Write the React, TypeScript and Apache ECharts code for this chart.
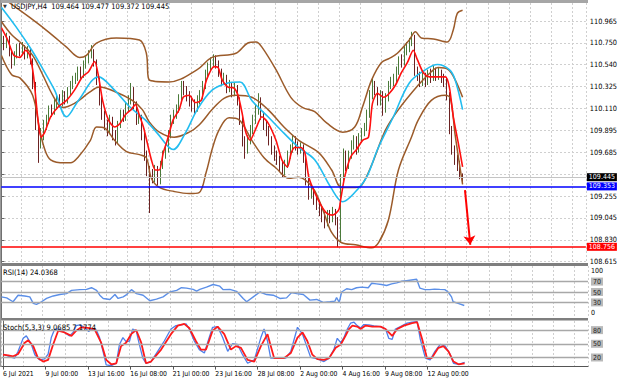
import React, { useEffect, useRef } from 'react';
import * as echarts from 'echarts';

const FONT = "'Liberation Sans Narrow', 'DejaVu Sans Condensed', 'Liberation Sans', Arial, sans-serif";
const SLOTS = 221;

const symbolName = 'USDJPY,H4';
const firstOpen = 110.74;
const closes = [
  110.78,110.73,110.80,110.66,110.56,110.63,110.70,110.66,110.71,110.63,
  110.68,110.58,110.34,109.95,109.80,109.85,109.95,110.00,110.10,110.08,
  110.14,110.19,110.16,110.24,110.19,110.27,110.34,110.39,110.41,110.47,
  110.44,110.54,110.58,110.63,110.66,110.56,110.39,110.19,110.05,109.95,
  109.90,110.00,109.85,109.80,109.95,110.05,110.02,110.12,110.19,110.29,
  110.14,110.00,110.02,109.85,109.66,109.51,109.46,109.43,109.51,109.41,
  109.56,109.66,109.71,109.85,110.00,110.05,110.10,110.19,110.34,110.29,
  110.24,110.19,110.14,110.12,110.19,110.24,110.34,110.44,110.51,110.56,
  110.60,110.54,110.47,110.39,110.41,110.31,110.34,110.27,110.31,110.19,
  110.00,109.80,109.71,109.80,109.90,110.00,110.10,110.19,110.05,109.95,
  109.90,109.80,109.71,109.66,109.61,109.56,109.49,109.56,109.66,109.71,
  109.80,109.75,109.71,109.73,109.63,109.41,109.27,109.31,109.22,109.17,
  109.12,109.07,109.00,109.07,109.04,109.10,109.02,108.83,109.43,109.66,
  109.56,109.66,109.75,109.80,109.71,109.82,109.88,109.92,110.05,110.24,
  110.34,110.29,110.19,110.24,110.10,110.21,110.34,110.37,110.39,110.47,
  110.58,110.56,110.68,110.70,110.76,110.78,110.47,110.44,110.37,110.41,
  110.37,110.44,110.41,110.47,110.43,110.46,110.41,110.39,110.24,109.90,
  109.71,109.61,109.56,109.464,109.445,
];
const highs = [
  110.84,110.82,110.85,110.82,110.69,110.67,110.74,110.75,110.76,110.73,
  110.72,110.70,110.60,110.37,109.99,109.92,110.00,110.05,110.14,110.15,
  110.20,110.24,110.25,110.29,110.28,110.32,110.38,110.43,110.46,110.52,
  110.52,110.58,110.63,110.68,110.73,110.69,110.59,110.42,110.23,110.09,
  110.00,110.05,110.03,109.90,109.99,110.10,110.10,110.17,110.24,110.36,
  110.32,110.18,110.08,110.05,109.88,109.70,109.55,109.52,109.56,109.55,
  109.60,109.70,109.76,109.90,110.05,110.10,110.15,110.25,110.38,110.38,
  110.33,110.28,110.23,110.20,110.24,110.29,110.38,110.49,110.56,110.61,
  110.64,110.63,110.58,110.50,110.46,110.44,110.39,110.37,110.36,110.34,
  110.22,110.04,109.84,109.85,109.95,110.05,110.15,110.26,110.22,110.08,
  110.00,109.94,109.84,109.75,109.70,109.65,109.60,109.61,109.70,109.76,
  109.85,109.84,109.79,109.78,109.76,109.66,109.45,109.36,109.34,109.26,
  109.21,109.16,109.10,109.12,109.12,109.15,109.13,109.05,109.47,109.72,
  109.70,109.70,109.80,109.85,109.84,109.87,109.92,109.97,110.10,110.29,
  110.40,110.38,110.32,110.29,110.28,110.26,110.38,110.42,110.45,110.52,
  110.62,110.64,110.72,110.76,110.80,110.86,110.83,110.52,110.47,110.46,
  110.46,110.49,110.50,110.53,110.51,110.51,110.49,110.45,110.42,110.27,
  109.94,109.75,109.66,109.60,109.477,
];
const lows = [
  110.70,110.68,110.70,110.62,110.50,110.53,110.60,110.62,110.63,110.59,
  110.60,110.54,110.30,109.90,109.58,109.72,109.80,109.90,109.96,110.03,
  110.05,110.10,110.12,110.13,110.15,110.16,110.24,110.30,110.35,110.38,
  110.40,110.41,110.50,110.55,110.60,110.52,110.34,110.14,110.00,109.90,
  109.84,109.86,109.80,109.75,109.77,109.92,109.98,109.99,110.08,110.15,
  110.10,109.95,109.96,109.80,109.60,109.45,109.09,109.38,109.39,109.36,
  109.37,109.52,109.62,109.68,109.82,109.96,110.01,110.07,110.16,110.24,
  110.18,110.13,110.08,110.06,110.08,110.15,110.20,110.30,110.40,110.47,
  110.52,110.50,110.42,110.33,110.34,110.26,110.27,110.22,110.23,110.14,
  109.95,109.74,109.62,109.67,109.76,109.86,109.96,110.05,110.00,109.90,
  109.84,109.75,109.66,109.60,109.56,109.50,109.44,109.46,109.53,109.62,
  109.68,109.70,109.66,109.67,109.58,109.36,109.22,109.23,109.17,109.12,
  109.06,109.00,108.94,108.96,108.99,109.00,108.97,108.756,108.80,109.40,
  109.50,109.52,109.62,109.71,109.66,109.68,109.78,109.84,109.89,110.02,
  110.20,110.24,110.14,110.14,110.04,110.07,110.18,110.30,110.33,110.35,
  110.44,110.51,110.53,110.63,110.66,110.72,110.43,110.38,110.32,110.33,
  110.32,110.34,110.36,110.38,110.38,110.39,110.36,110.32,110.19,109.86,
  109.66,109.56,109.50,109.42,109.372,
];

// indicator lines: [bar index, value]
const bbUpper = [[0,111.20],[10.7,111.00],[18.2,110.85],[24.6,110.71],[29.5,110.61],[32.1,110.63],[35.9,110.75],[43.4,110.80],[52.1,110.78],[54.7,110.65],[55.8,110.39],[63.3,110.37],[73.9,110.49],[79.5,110.61],[88.5,110.65],[93,110.75],[96.1,110.76],[98.3,110.71],[103.6,110.49],[109.2,110.22],[113.7,110.12],[118.2,110.08],[122.7,109.97],[128.8,109.88],[133.3,109.93],[136.3,110.13],[139.7,110.39],[143.4,110.56],[146.4,110.60],[149.4,110.65],[153.9,110.78],[156.2,110.86],[158.4,110.80],[163,110.79],[168.2,110.76],[170.5,110.88],[172,111.04],[174,111.07]];
const bbMiddle = [[0,110.96],[3.9,110.83],[7,110.76],[11.8,110.63],[15.6,110.44],[19.4,110.24],[23.1,110.12],[27.6,110.16],[33.3,110.27],[37,110.32],[43.4,110.27],[49.4,110.19],[53.2,110.10],[55.8,109.98],[59.6,109.88],[65.2,109.83],[70.9,109.88],[74.6,109.95],[79.5,110.10],[84,110.21],[88.5,110.24],[94.5,110.22],[100.6,110.10],[106.6,109.93],[112.2,109.80],[119.7,109.68],[124.6,109.51],[128.4,109.34],[133.6,109.34],[135.9,109.36],[139.7,109.56],[144.9,109.90],[149.8,110.10],[157.3,110.34],[162.2,110.47],[164.8,110.51],[168.6,110.49],[171.2,110.39],[174,110.22]];
const bbLower = [[0,110.63],[3.9,110.44],[7,110.41],[11.8,110.24],[14.5,109.90],[16.4,109.71],[18.6,109.61],[23.9,109.58],[26.1,109.58],[29.1,109.64],[33.6,109.80],[35.9,109.93],[38.9,109.92],[42.7,109.80],[47.2,109.69],[52.1,109.66],[54.7,109.63],[56.6,109.43],[59.6,109.34],[65.2,109.30],[70.9,109.28],[74.6,109.29],[77.3,109.49],[79.5,109.71],[82.1,109.90],[85.9,110.02],[89.7,110.00],[94.5,109.80],[99.1,109.63],[103.6,109.53],[108.5,109.43],[112.2,109.44],[114.8,109.41],[118.2,109.31],[121.6,109.10],[124.6,108.90],[128.4,108.80],[133.6,108.78],[139.7,108.75],[142.3,108.80],[146,109.02],[149.8,109.51],[154.7,109.83],[157.3,110.00],[162.2,110.19],[167.5,110.24],[169.4,110.21],[171.2,109.85],[174,109.37]];
const slowMA = [[0,111.10],[5.5,110.91],[11.5,110.68],[15.8,110.49],[20.1,110.29],[24.6,110.03],[29.1,110.19],[36.7,110.42],[42.7,110.29],[48.3,110.13],[54.3,110.00],[58.8,109.87],[64.8,109.71],[69.4,109.87],[73.9,110.10],[79.5,110.29],[85.5,110.36],[90,110.37],[94.5,110.19],[100.6,110.03],[106.6,109.87],[112.2,109.73],[118.2,109.61],[124.3,109.34],[128.8,109.20],[133.3,109.29],[137.8,109.44],[141.9,109.71],[147.9,110.03],[153.9,110.36],[160,110.49],[164.5,110.54],[169,110.49],[171.2,110.39],[174,110.10]];
const fastMA = [[0,110.90],[2.4,110.78],[4.7,110.63],[7,110.61],[9.2,110.68],[10.7,110.63],[12.2,110.42],[13.7,110.03],[15,109.83],[16.4,109.88],[18.6,110.03],[21.6,110.13],[24.6,110.19],[27.6,110.29],[30.6,110.42],[32.9,110.47],[35.2,110.57],[36.7,110.42],[38.2,110.19],[40.4,110.00],[42.7,109.93],[44.9,109.97],[46.8,110.05],[49,110.10],[50.6,110.15],[52,110.05],[53.6,109.93],[55.1,109.77],[56.6,109.61],[58.1,109.51],[59.6,109.51],[61.1,109.68],[62.6,109.80],[64.8,110.00],[67.1,110.10],[68.6,110.22],[70.9,110.24],[73.1,110.17],[75.4,110.19],[77.4,110.39],[80.3,110.52],[81.8,110.51],[83.3,110.39],[85.5,110.32],[87.8,110.31],[89.3,110.24],[90.8,110.07],[92.3,109.87],[93.8,109.80],[96.1,109.92],[98.3,110.03],[100.6,109.97],[103.6,109.80],[105.8,109.61],[107.9,109.54],[109.4,109.68],[110.7,109.73],[113,109.73],[114.5,109.68],[116,109.44],[118.2,109.29],[120.5,109.17],[122.7,109.09],[125,109.07],[127.3,109.12],[128,109.22],[129.5,109.44],[131.8,109.64],[134,109.71],[136.3,109.80],[138.5,109.83],[140,110.16],[141.9,110.26],[144.2,110.22],[146.4,110.26],[148.7,110.34],[150.9,110.46],[153.2,110.56],[155.4,110.68],[156.9,110.59],[159.2,110.46],[161.5,110.42],[164.5,110.42],[167.5,110.42],[169,110.32],[170.5,110.03],[172.4,109.77],[174,109.54]];

const rsiLine = [[0,40.6],[2,38.7],[4.4,31.2],[6.3,43.8],[8.8,42.4],[10.7,40.6],[12,28.2],[13.2,26.3],[15.1,31.2],[17,37.6],[19.5,42.4],[22,45.1],[24.5,46.9],[26.4,53.1],[29.5,54.5],[32,55],[33.9,58.2],[35.8,53.1],[37,43.8],[38.3,37.6],[40.8,35.7],[42.7,45.1],[43.9,37.6],[45.8,40.6],[47.1,45.1],[48.9,54.5],[50.8,46.9],[53.3,43.8],[55.8,33.1],[58.3,36.2],[60.8,40.6],[63.3,50],[65.9,53.1],[67.7,58.2],[69.6,57.5],[72.1,55],[73.4,51.8],[74.6,55],[77.1,59.3],[79.6,64.4],[82.1,61.2],[83.4,54.5],[85.9,55],[88.4,51.3],[90.9,37.6],[92.2,31.2],[94.7,40.6],[97.2,50],[99.7,45.1],[102.2,43.8],[104.7,37.6],[107.2,38.7],[109.1,48.8],[111,46.9],[113.5,45.1],[116,34.4],[118.5,35.7],[121,30],[123.5,31.2],[125.4,32.5],[126,39.4],[127,30],[127.9,50],[129.8,56.3],[131.7,54.5],[133.5,58.2],[135.4,59.3],[137.9,58.2],[139.2,66.9],[141,65.7],[142.9,64.4],[144.8,62.5],[146.7,65.7],[148.6,67.6],[150.5,70.6],[152.3,71.9],[154.2,73.2],[156.1,74.4],[157.3,57.5],[159.2,54.5],[161,54.5],[162.8,55.6],[164.8,55],[166.7,54.5],[167.9,50],[169.2,40.6],[169.8,31.2],[171.7,28.2],[174,24.04]];
const stochMain = [[0,27.6],[1.3,24.6],[3.2,20.1],[4.4,18.6],[5.7,33.6],[7.6,62.1],[8.8,67.4],[10.7,48.6],[12,26.1],[13.8,14.8],[15.7,17.1],[17,27.6],[18.2,63.6],[19.5,82.4],[21.4,82.4],[23.2,74.9],[25.1,67.4],[26.4,74.9],[27.6,89.9],[28.9,91.4],[30.2,87.7],[31.4,82.4],[32.3,77.1],[33.3,82.4],[35.2,80.2],[36.4,63.6],[37.7,33.6],[38.9,3.6],[40.8,2.1],[42.7,7.3],[43.9,48.6],[45.2,63.6],[46.4,54.6],[47.7,56.1],[48.9,82.4],[50.2,78.7],[51.4,48.6],[52.7,18.6],[53.9,7.3],[55.8,11.1],[58.3,33.6],[60.8,56.1],[63.3,82.4],[65.2,89.9],[67.7,92.2],[69,93.7],[70.2,82.4],[72.1,56.1],[74,37.3],[75.9,29.8],[77.7,63.6],[79,86.2],[80.9,87.7],[82.8,63.6],[84.7,33.6],[86.5,50.1],[88.4,48.6],[90.3,26.1],[92.2,7.3],[94.7,14.8],[97.2,63.6],[98.4,82.4],[99.7,56.1],[100.9,18.6],[103.5,18.6],[106.6,18.6],[108.5,33.6],[111,86.2],[112.9,71.1],[114.7,41.1],[116,20],[118.5,17.1],[121,11.1],[122.9,18.6],[124.7,37.3],[126,62.1],[127.3,52.4],[128.5,63.6],[129.8,82.4],[131,95.2],[132.3,97.4],[133.5,89.9],[134.8,84.7],[136,92.2],[137.9,91.4],[139.8,89.2],[142.3,87.7],[144.2,82.4],[145.4,62.1],[146.7,59.9],[147.9,82.4],[149.8,87.7],[152.3,95.2],[154.2,97.4],[156.1,98.5],[157.3,59.9],[159.2,18.6],[161,14.8],[162.8,33.6],[164.8,48.6],[166.7,44.9],[168.6,26.1],[169.8,7.3],[171.7,5.1],[174,9.07]];
const stochSignal = [[0,26.1],[2,24.6],[3.8,22.3],[5.7,27.6],[8.2,52.4],[9.5,57.6],[11.4,44.9],[13.2,18.6],[15.1,11.1],[17,14.8],[18.9,48.6],[20.8,78.7],[23.2,74.9],[25.8,67.4],[27.6,78.7],[29.5,86.2],[32,84.7],[34.5,82.4],[37,52.4],[38.9,14.8],[40.8,5.1],[42.7,7.3],[44.5,44.9],[46.4,52.4],[48.3,71.1],[50.2,80.2],[52.1,52.4],[53.9,7.3],[55.8,11.1],[59.6,37.3],[63.3,71.1],[65.9,89.9],[68.3,93.7],[70.2,84.7],[72.7,56.1],[74.6,37.3],[76.5,37.3],[79,78.7],[80.9,87.7],[83.4,71.1],[85.9,37.3],[87.8,44.9],[89.7,41.1],[92.2,14.8],[94.7,11.1],[97.2,44.9],[99.7,71.1],[102.2,18.6],[105.9,18.6],[108.5,29.8],[111,63.6],[112.9,74.9],[114.7,56.1],[116.6,26.1],[118.5,16.3],[121,14.8],[122.9,18.6],[125.4,41.1],[127.3,48.6],[129.1,67.4],[130.4,82.4],[131.7,89.9],[133.5,87.7],[134.8,82.4],[136.7,89.9],[139.2,87.7],[142.3,87.7],[144.2,82.4],[146.7,67.4],[148.6,82.4],[151.1,89.9],[154.2,95.2],[156.1,97.4],[158,59.9],[159.8,18.6],[161.6,18.6],[164.1,41.1],[166,44.9],[167.9,33.6],[169.8,11.1],[171.7,5.1],[174,7.18]];

const rsiText = 'RSI(14) 24.0368';
const stochText = 'Stoch(5,3,3) 9.0685 7.1774';
const rsiLevels = [70, 50, 30];
const stochLevels = [80, 50, 20];

const priceTicks = [108.615,108.829,109.042,109.256,109.470,109.683,109.897,110.110,110.324,110.538,110.751,110.965];
const priceTickLabels = ['108.615','108.830','109.045','109.255','','109.685','109.895','110.110','110.325','110.540','110.750','110.965'];
const dateLabels = ['6 Jul 2021','9 Jul 00:00','13 Jul 16:00','16 Jul 08:00','21 Jul 00:00','23 Jul 16:00','28 Jul 08:00','2 Aug 00:00','4 Aug 16:00','9 Aug 08:00','12 Aug 00:00'];
const DATE_STEP = 16;

const bidPrice = 109.445;
const supportLevel = 109.353;
const targetLevel = 108.756;
const arrowFrom = [174.9, 109.314];
const arrowTo = [176.9, 108.78];

const BROWN = '#9b5b2a';

function buildOption() {
  const cats = Array.from({ length: SLOTS }, (_, i) => String(i));
  const candles = closes.map((c, i) => [i === 0 ? firstOpen : closes[i - 1], c, lows[i], highs[i]]);
  const n = closes.length;
  const headText = `${symbolName}  ${candles[n - 1][0].toFixed(3)} ${highs[n - 1].toFixed(3)} ${lows[n - 1].toFixed(3)} ${closes[n - 1].toFixed(3)}`;

  const vSplit = { show: true, interval: 7, lineStyle: { color: '#cfcfcf', type: [2, 2], width: 1 } };
  const showDate = (i: number) => i % DATE_STEP === 0 && i / DATE_STEP < dateLabels.length;
  const catAxis = (grid: number, showLabels: boolean) => ({
    type: 'category', gridIndex: grid, data: cats, boundaryGap: true,
    axisLine: { show: showLabels, lineStyle: { color: '#555' } },
    axisTick: showLabels
      ? { show: true, alignWithLabel: true, length: 3, interval: showDate, lineStyle: { color: '#555' } }
      : { show: false },
    axisLabel: showLabels
      ? { show: true, interval: showDate, formatter: (_v: string, i: number) => dateLabels[i / DATE_STEP] || '', align: 'left', fontSize: 6.8, color: '#000', margin: 4, fontFamily: FONT }
      : { show: false },
    splitLine: vSplit,
  });
  const valX = (grid: number) => ({ type: 'value', gridIndex: grid, min: -0.5, max: SLOTS - 0.5, show: false });

  const levelLabel = (vals: number[], topAt: number, botAt: number) => ({
    show: true, fontSize: 7, fontFamily: FONT, color: '#000', margin: 3,
    customValues: [topAt, ...vals, botAt],
    formatter: (v: number) => (v === topAt ? '100' : v === botAt ? '0' : `{lv|${v}}`),
    rich: { lv: { backgroundColor: '#b9b9b9', color: '#222', padding: [1, 2, 0, 2], fontSize: 7, fontFamily: FONT } },
  });

  const lineS = (name: string, data: number[][], xi: number, yi: number, color: string, width: number, smooth: number | boolean, extra: any = {}) => ({
    name, type: 'line', xAxisIndex: xi, yAxisIndex: yi, data, showSymbol: false, smooth, silent: true,
    lineStyle: { color, width }, itemStyle: { color }, ...extra,
  });

  const priceTag = (value: number, bg: string, lineColor: string, width: number) => ({
    yAxis: value,
    lineStyle: { color: lineColor, width, type: 'solid' },
    label: { show: true, position: 'end', formatter: value.toFixed(3), backgroundColor: bg, color: '#fff', padding: [0, 2, 0, 2], distance: 1, fontSize: 7, lineHeight: 8, fontFamily: FONT },
  });

  return {
    animation: false,
    backgroundColor: '#ffffff',
    textStyle: { fontFamily: FONT },
    grid: [
      { left: 0, top: 3, width: 588, height: 260 },
      { left: 0, top: 266, width: 588, height: 52 },
      { left: 0, top: 321, width: 588, height: 45.6 },
    ],
    xAxis: [catAxis(0, false), valX(0), catAxis(1, false), valX(1), catAxis(2, true), valX(2)],
    yAxis: [
      {
        type: 'value', gridIndex: 0, position: 'right', min: 108.602, max: 111.141, scale: true,
        axisLine: { show: true, lineStyle: { color: '#666' } },
        axisTick: { show: true, length: 3, customValues: priceTicks, lineStyle: { color: '#666' } },
        axisLabel: {
          show: true, customValues: priceTicks, fontSize: 7.3, color: '#000', margin: 4, fontFamily: FONT,
          formatter: (v: number) => { const k = priceTicks.findIndex((t) => Math.abs(t - v) < 1e-6); return k >= 0 ? priceTickLabels[k] : ''; },
        },
        splitLine: { show: true, lineStyle: { color: '#cfcfcf', type: [2, 2] } },
      },
      {
        type: 'value', gridIndex: 1, position: 'right', min: 0, max: 100,
        axisLine: { show: true, lineStyle: { color: '#666' } },
        axisTick: { show: false }, splitLine: { show: false },
        axisLabel: levelLabel(rsiLevels, 91, 9),
      },
      {
        type: 'value', gridIndex: 2, position: 'right', min: 0, max: 100,
        axisLine: { show: true, lineStyle: { color: '#666' } },
        axisTick: { show: false }, splitLine: { show: false },
        axisLabel: levelLabel(stochLevels, 93, 7),
      },
    ],
    series: [
      {
        name: 'price', type: 'candlestick', xAxisIndex: 0, yAxisIndex: 0, data: candles, barWidth: 1.3, silent: true,
        itemStyle: { color: '#3f9a22', color0: '#8b1111', borderColor: '#4b7a3a', borderColor0: '#6b2222', borderWidth: 1 },
        markLine: {
          silent: true, symbol: 'none', animation: false,
          data: [priceTag(bidPrice, '#000000', '#c4c4c4', 1), priceTag(supportLevel, '#0000ff', '#0000ff', 1.5), priceTag(targetLevel, '#ff0000', '#ff0000', 1.5)],
        },
      },
      lineS('bbUpper', bbUpper, 1, 0, BROWN, 1.5, 0.35),
      lineS('bbMiddle', bbMiddle, 1, 0, BROWN, 1.5, 0.35),
      lineS('bbLower', bbLower, 1, 0, BROWN, 1.5, 0.35),
      lineS('slowMA', slowMA, 1, 0, '#22bdf0', 1.6, 0.35),
      lineS('fastMA', fastMA, 1, 0, '#ff1010', 1.6, 0.25, {
        markLine: {
          silent: true, animation: false, symbol: ['none', 'arrow'], symbolSize: 9,
          lineStyle: { color: '#ff0000', width: 2, type: 'solid' }, itemStyle: { color: '#ff0000' }, label: { show: false },
          data: [[{ coord: arrowFrom }, { coord: arrowTo }]],
        },
      }),
      lineS('rsi', rsiLine, 3, 1, '#5b8fe8', 1.4, false, {
        markLine: { silent: true, symbol: 'none', animation: false, label: { show: false }, lineStyle: { color: '#a8a8a8', width: 1.3, type: 'solid' }, data: rsiLevels.map((v) => ({ yAxis: v })) },
      }),
      lineS('stochMain', stochMain, 5, 2, '#4f80ea', 1.3, false, {
        markLine: { silent: true, symbol: 'none', animation: false, label: { show: false }, lineStyle: { color: '#a8a8a8', width: 1.3, type: 'solid' }, data: stochLevels.map((v) => ({ yAxis: v })) },
      }),
      lineS('stochSignal', stochSignal, 5, 2, '#ff1a1a', 1.8, false),
    ],
    graphic: [
      { type: 'rect', left: 0, top: 0, shape: { x: 0, y: 0, width: 588, height: 3 }, style: { fill: '#a6a6a6' }, z: 100 },
      { type: 'rect', left: 0, top: 263, shape: { x: 0, y: 0, width: 588, height: 3 }, style: { fill: '#7f7f7f' }, z: 100 },
      { type: 'rect', left: 0, top: 318, shape: { x: 0, y: 0, width: 588, height: 2.5 }, style: { fill: '#7f7f7f' }, z: 100 },
      { type: 'rect', left: 0, top: 0, shape: { x: 0, y: 0, width: 1.2, height: 367 }, style: { fill: '#9a9a9a' }, z: 100 },
      { type: 'text', left: 3, top: 3, style: { text: '▼', fontSize: 5, fill: '#333', fontFamily: 'DejaVu Sans' }, z: 101 },
      { type: 'text', left: 11, top: 2, style: { text: headText, fontSize: 7.5, fill: '#000', fontFamily: FONT }, z: 101 },
      { type: 'text', left: 3, top: 268, style: { text: rsiText, fontSize: 7.5, fill: '#000', fontFamily: FONT }, z: 101 },
      { type: 'text', left: 3, top: 323, style: { text: stochText, fontSize: 7.5, fill: '#000', fontFamily: FONT }, z: 101 },
    ],
  };
}

export default function App() {
  const ref = useRef<HTMLDivElement>(null);
  useEffect(() => {
    const chart = echarts.init(ref.current as HTMLDivElement, undefined, { renderer: 'svg' });
    chart.setOption(buildOption() as any);
    return () => chart.dispose();
  }, []);
  return <div ref={ref} style={{ position: 'fixed', left: 0, top: 0, width: 620, height: 381, background: '#fff' }} />;
}
